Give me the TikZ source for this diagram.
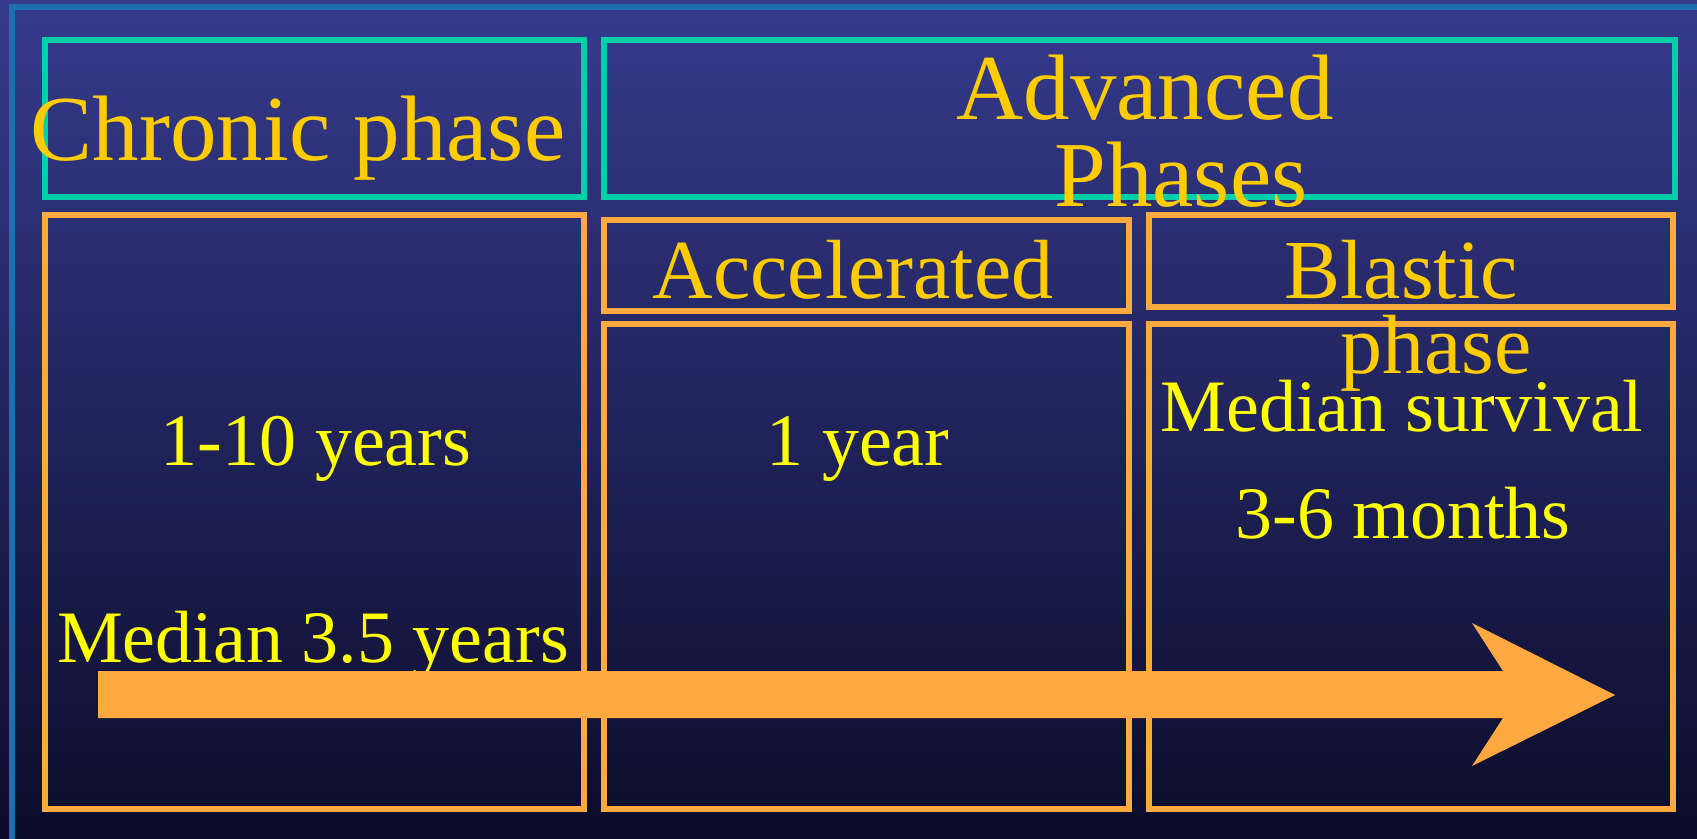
\documentclass[tikz,border=0pt]{standalone}
\usepackage{fontspec}
\setmainfont{Liberation Serif}
\usetikzlibrary{fit}
\definecolor{gold}{RGB}{255,204,0}
\definecolor{yel}{RGB}{255,255,0}
\definecolor{tealg}{RGB}{0,207,170}
\definecolor{orng}{RGB}{255,169,64}
\definecolor{frameblue}{RGB}{31,110,176}
\definecolor{bgtop}{RGB}{54,59,141}
\definecolor{bgbot}{RGB}{11,12,42}
\begin{document}
\begin{tikzpicture}[x=1pt,y=-1pt,
  gbox/.style={draw=tealg, line width=6pt, inner sep=0pt, outer sep=0pt},
  obox/.style={draw=orng, line width=5.5pt, inner sep=0pt, outer sep=0pt},
  headtxt/.style={text=gold, font=\fontsize{93}{93}\selectfont, inner sep=0pt, anchor=base},
  subtxt/.style={text=gold, font=\fontsize{84}{84}\selectfont, inner sep=0pt, anchor=base},
  bodytxt/.style={text=yel, font=\fontsize{74}{74}\selectfont, inner sep=0pt, anchor=base}]
\useasboundingbox (0,0) rectangle (1697,838);
\clip (0,0) rectangle (1697,838);
\shade[top color=bgtop, bottom color=bgbot] (0,0) rectangle (1697,838);
\draw[frameblue, line width=6pt] (12,7) rectangle (1760,900);
% boxes
\node[gbox, fit={(45,40) (584,197)}] (chronicbox) {};
\node[gbox, fit={(604,40) (1675,197)}] (advbox) {};
\node[obox, fit={(45,215) (584,809)}] (chronicbody) {};
\node[obox, fit={(604,220) (1129,311)}] (accbox) {};
\node[obox, fit={(604,324) (1129,809)}] (accbody) {};
\node[obox, fit={(1149,215) (1673,307)}] (blastbox) {};
\node[obox, fit={(1149,324) (1673,809)}] (blastbody) {};
% header texts
\node[headtxt] (chronic) at (298,160) {Chronic phase};
\node[headtxt] (adv1) at (1145,119) {Advanced};
\node[headtxt] (adv2) at (1181,206) {Phases};
\node[subtxt] (acc) at (853,298) {Accelerated};
\node[subtxt] (bl1) at (1401,298) {Blastic};
\node[subtxt] (bl2) at (1436,373) {phase};
% body texts
\node[bodytxt] (chrdur) at (316,465) {1-10 years};
\node[bodytxt] (accdur) at (858,465) {1 year};
\node[bodytxt] (blsurv) at (1402,431) {Median survival};
\node[bodytxt] (blmonths) at (1403,538) {3-6 months};
\node[bodytxt] (chrmed) at (313,662) {Median 3.5 years};
% arrow
\fill[orng] (98,671) -- (1503,671) -- (1472,623) -- (1615,695) -- (1472,766) -- (1503,718) -- (98,718) -- cycle;
\end{tikzpicture}
\end{document}
